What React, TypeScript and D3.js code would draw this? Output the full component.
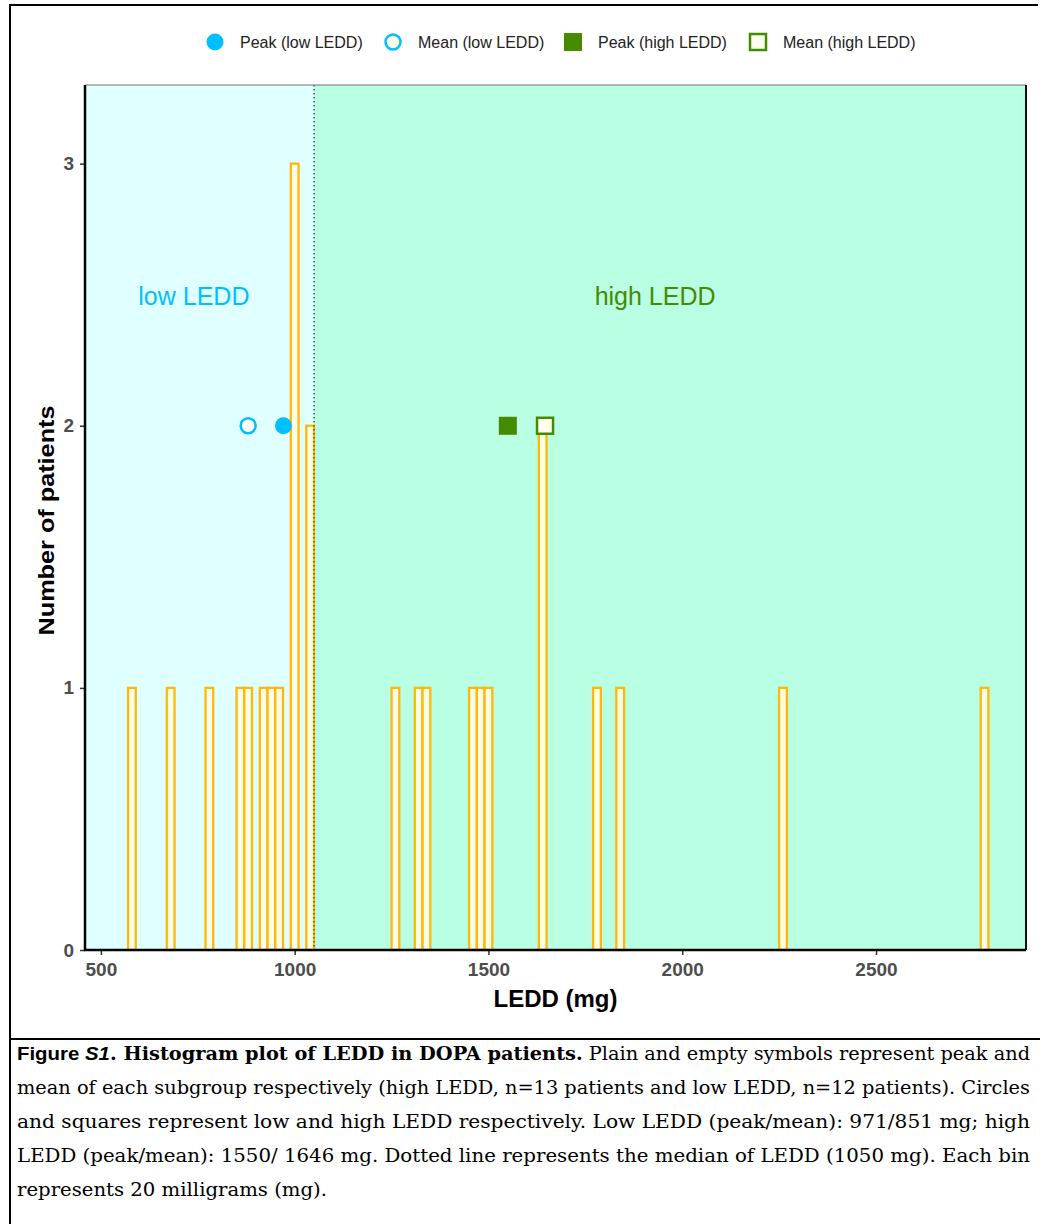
import React, { useRef, useEffect } from 'react';
import * as d3 from 'd3';

// histogram bins (20 mg wide), centre of each bin and patient count
const binCenters = [580, 680, 780, 860, 880, 920, 940, 960, 1000, 1040, 1260, 1320, 1340, 1460, 1480, 1500, 1640, 1780, 1840, 2260, 2780];
const binCounts = [1, 1, 1, 1, 1, 1, 1, 1, 3, 2, 1, 1, 1, 1, 1, 1, 2, 1, 1, 1, 1];
const binWidth = 20;

// subgroup summary symbols
const summaryNames = ['Peak (low LEDD)', 'Mean (low LEDD)', 'Peak (high LEDD)', 'Mean (high LEDD)'];
const summaryValues = [971, 880, 1550, 1646];
const summaryLevel = 2;

const medianLEDD = 1050;
const xTicks = [500, 1000, 1500, 2000, 2500];
const yTicks = [0, 1, 2, 3];

const captionLines = [
  'mean of each subgroup respectively (high LEDD, n=13 patients and low LEDD, n=12 patients). Circles',
  'and squares represent low and high LEDD respectively. Low LEDD (peak/mean): 971/851 mg; high',
  'LEDD (peak/mean): 1550/ 1646 mg. Dotted line represents the median of LEDD (1050 mg). Each bin',
  'represents 20 milligrams (mg).',
];

const BLUE = '#00BFFF';
const GREEN = '#458B00';
const SANS = 'Liberation Sans, Arial, sans-serif';
const SERIF = 'DejaVu Serif, serif';

export default function App() {
  const svgRef = useRef<SVGSVGElement>(null);

  useEffect(() => {
    if (!svgRef.current) return;
    const svg = d3.select(svgRef.current);
    svg.selectAll('*').remove();

    const left = 85, right = 1026, top = 85, bottom = 950;
    const x = d3.scaleLinear().domain([459, 2887]).range([left, right]);
    const y = d3.scaleLinear().domain([0, 3.3]).range([bottom, top]);

    // frame around figure + caption separator
    svg.append('line').attr('x1', 10).attr('x2', 1038).attr('y1', 5).attr('y2', 5).attr('stroke', '#000').attr('stroke-width', 2);
    svg.append('line').attr('x1', 10).attr('x2', 10).attr('y1', 4).attr('y2', 1224).attr('stroke', '#000').attr('stroke-width', 2);
    svg.append('line').attr('x1', 10).attr('x2', 1040).attr('y1', 1039).attr('y2', 1039).attr('stroke', '#000').attr('stroke-width', 2);

    // background regions
    svg.append('rect')
      .attr('x', left).attr('y', top)
      .attr('width', x(medianLEDD) - left).attr('height', bottom - top)
      .attr('fill', '#E0FFFF');
    svg.append('rect')
      .attr('x', x(medianLEDD)).attr('y', top)
      .attr('width', right - x(medianLEDD)).attr('height', bottom - top)
      .attr('fill', '#B9FFE3');

    // histogram bars
    svg.selectAll('.bar')
      .data(binCenters)
      .enter()
      .append('rect')
      .attr('class', 'bar')
      .attr('x', d => x(d - binWidth / 2))
      .attr('width', d => x(d + binWidth / 2) - x(d - binWidth / 2))
      .attr('y', (d, i) => y(binCounts[i]))
      .attr('height', (d, i) => y(0) - y(binCounts[i]))
      .attr('fill', '#FFFDE8')
      .attr('stroke', '#FFB70A')
      .attr('stroke-width', 2.3);

    // median line
    svg.append('line')
      .attr('x1', x(medianLEDD)).attr('x2', x(medianLEDD))
      .attr('y1', top).attr('y2', bottom)
      .attr('stroke', '#333')
      .attr('stroke-width', 1.2)
      .attr('stroke-dasharray', '1.5,2.5');

    // panel border
    svg.append('line').attr('x1', left).attr('x2', right).attr('y1', top).attr('y2', top).attr('stroke', '#777').attr('stroke-width', 1.2);
    svg.append('line').attr('x1', right).attr('x2', right).attr('y1', top).attr('y2', bottom).attr('stroke', '#111').attr('stroke-width', 2);

    // symbol drawing helper
    const drawSymbol = (g: any, i: number, cx: number, cy: number) => {
      const color = i < 2 ? BLUE : GREEN;
      const filled = i % 2 === 0;
      if (i < 2) {
        g.append('circle')
          .attr('cx', cx).attr('cy', cy)
          .attr('r', filled ? 8.5 : 7.5)
          .attr('fill', filled ? color : '#FFFFF0')
          .attr('stroke', color)
          .attr('stroke-width', filled ? 0 : 2.5);
      } else {
        const s = filled ? 18 : 16;
        g.append('rect')
          .attr('x', cx - s / 2).attr('y', cy - s / 2)
          .attr('width', s).attr('height', s)
          .attr('fill', filled ? color : '#FFFFF0')
          .attr('stroke', color)
          .attr('stroke-width', filled ? 0 : 2.5);
      }
    };

    summaryValues.forEach((v, i) => drawSymbol(svg, i, x(v), y(summaryLevel)));

    // region labels
    svg.append('text')
      .attr('x', x(740)).attr('y', 305)
      .attr('text-anchor', 'middle')
      .attr('font-family', SANS).attr('font-size', 25)
      .attr('fill', BLUE)
      .text('low LEDD');
    svg.append('text')
      .attr('x', x(1930)).attr('y', 305)
      .attr('text-anchor', 'middle')
      .attr('font-family', SANS).attr('font-size', 25)
      .attr('fill', GREEN)
      .text('high LEDD');

    // axes
    const xAxis = svg.append('g')
      .attr('transform', `translate(0,${bottom})`)
      .call(d3.axisBottom(x).tickValues(xTicks).tickFormat(d3.format('d')).tickSize(5).tickPadding(8));
    const yAxis = svg.append('g')
      .attr('transform', `translate(${left},0)`)
      .call(d3.axisLeft(y).tickValues(yTicks).tickFormat(d3.format('d')).tickSize(5).tickPadding(6));
    [xAxis, yAxis].forEach(ax => {
      ax.select('.domain').remove();
      ax.selectAll('line').attr('stroke', '#333').attr('stroke-width', 1.5);
      ax.selectAll('text')
        .attr('fill', '#4D4D4D')
        .attr('font-family', SANS)
        .attr('font-size', 19)
        .attr('font-weight', 'bold');
    });
    svg.append('line').attr('x1', left).attr('x2', left).attr('y1', top).attr('y2', bottom + 1).attr('stroke', '#000').attr('stroke-width', 2.5);
    svg.append('line').attr('x1', left - 1).attr('x2', right).attr('y1', bottom).attr('y2', bottom).attr('stroke', '#000').attr('stroke-width', 2.5);

    // axis titles
    svg.append('text')
      .attr('x', (left + right) / 2).attr('y', 1007)
      .attr('text-anchor', 'middle')
      .attr('font-family', SANS).attr('font-size', 24).attr('font-weight', 'bold')
      .text('LEDD (mg)');
    svg.append('text')
      .attr('transform', `translate(54,${(top + bottom) / 2 + 3}) rotate(-90)`)
      .attr('text-anchor', 'middle')
      .attr('font-family', SANS).attr('font-size', 22).attr('font-weight', 'bold')
      .attr('textLength', 230).attr('lengthAdjust', 'spacingAndGlyphs')
      .text('Number of patients');

    // legend
    const legendX = [215, 393, 573, 758];
    const legend = svg.append('g');
    summaryNames.forEach((name, i) => {
      drawSymbol(legend, i, legendX[i], 42);
      legend.append('text')
        .attr('x', legendX[i] + 25).attr('y', 48)
        .attr('font-family', SANS).attr('font-size', 16)
        .attr('fill', '#222')
        .text(name);
    });

    // caption
    const first = svg.append('text')
      .attr('x', 17).attr('y', 1060)
      .attr('font-family', SERIF).attr('font-size', 18)
      .attr('textLength', 1013).attr('lengthAdjust', 'spacingAndGlyphs');
    first.append('tspan').attr('font-weight', 'bold').attr('font-family', SANS).attr('font-size', 19).text('Figure ');
    first.append('tspan').attr('font-weight', 'bold').attr('font-style', 'italic').attr('font-family', SANS).attr('font-size', 19).text('S1');
    first.append('tspan').attr('font-weight', 'bold').text('. Histogram plot of LEDD in DOPA patients.');
    first.append('tspan').text(' Plain and empty symbols represent peak and');

    captionLines.forEach((line, i) => {
      const t = svg.append('text')
        .attr('x', 17).attr('y', 1094 + i * 34)
        .attr('font-family', SERIF).attr('font-size', 18)
        .text(line);
      if (i < captionLines.length - 1) t.attr('textLength', 1013).attr('lengthAdjust', 'spacingAndGlyphs');
      else t.attr('textLength', 310).attr('lengthAdjust', 'spacingAndGlyphs');
    });
  }, []);

  return (
    <svg
      ref={svgRef}
      width={1040}
      height={1224}
      style={{ position: 'absolute', left: 0, top: 0, background: '#fff' }}
    />
  );
}
